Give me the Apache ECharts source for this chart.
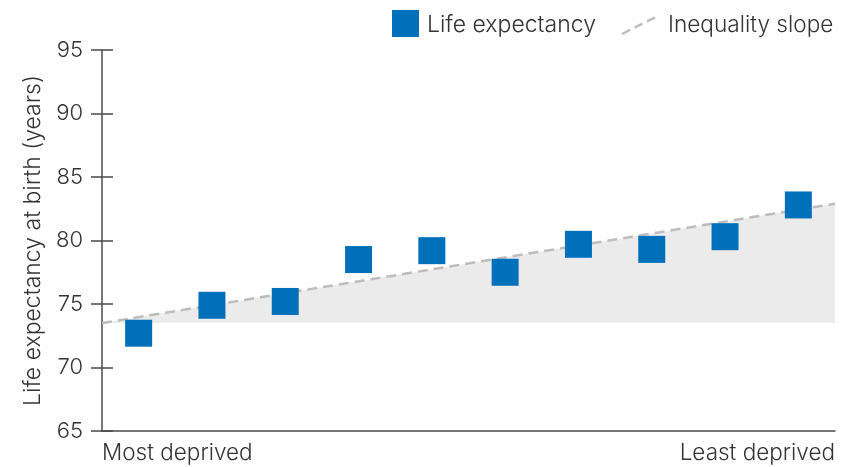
<!DOCTYPE html>
<html>
<head>
<meta charset="utf-8">
<script src="https://cdn.jsdelivr.net/npm/echarts@6/dist/echarts.min.js"></script>
<style>
html,body{margin:0;padding:0;background:#fff;}
#c{width:859px;height:467px;}
</style>
</head>
<body>
<div id="c"></div>
<script>
const groups = ['1','2','3','4','5','6','7','8','9','10'];
const lifeExpectancy = [72.7, 74.9, 75.2, 78.5, 79.2, 77.5, 79.7, 79.3, 80.3, 82.8];
const slopeStart = 73.5;
const slopeEnd = 82.9;
const yTicks = [65, 70, 75, 80, 85, 90, 95];
const endLabels = ['Most deprived', 'Least deprived'];
const yTitle = 'Life expectancy at birth (years)';
const legendNames = ['Life expectancy', 'Inequality slope'];

const FONT = 'Inter';
const TXT = '#333';
const AX = '#4a4a4a';

const chart = echarts.init(document.getElementById('c'), null, {renderer: 'canvas'});
chart.setOption({
  animation: false,
  grid: {left: 102, right: 24, top: 50, bottom: 36, containLabel: false},
  xAxis: [
    {type: 'category', data: groups, boundaryGap: true, show: false},
    {type: 'value', min: 0, max: 1, interval: 1, position: 'bottom',
     axisLine: {show: true, lineStyle: {color: AX, width: 1.5}},
     axisTick: {show: false}, splitLine: {show: false},
     axisLabel: {show: true, margin: 11, fontFamily: FONT, fontWeight: 300, fontSize: 22.5, color: TXT,
       alignMinLabel: 'left', alignMaxLabel: 'right',
       formatter: v => v === 0 ? endLabels[0] : (v === 1 ? endLabels[1] : '')}}
  ],
  yAxis: [
    {type: 'value', min: yTicks[0], max: yTicks[yTicks.length-1], interval: 5,
     name: yTitle, nameLocation: 'middle', nameGap: 57, nameRotate: 90,
     nameTextStyle: {fontFamily: FONT, fontWeight: 300, fontSize: 23, color: TXT},
     axisLine: {show: true, lineStyle: {color: AX, width: 1.5}},
     axisTick: {show: true, length: 11, lineStyle: {color: AX, width: 1.5}},
     axisLabel: {margin: 19, fontFamily: FONT, fontWeight: 300, fontSize: 22, color: TXT},
     splitLine: {show: false}},
    {type: 'value', min: yTicks[0], max: yTicks[yTicks.length-1], interval: 5, position: 'left',
     axisLine: {show: false}, axisLabel: {show: false}, splitLine: {show: false},
     axisTick: {show: true, inside: true, length: 11, lineStyle: {color: AX, width: 1.5}}}
  ],
  series: [
    {name: legendNames[1], type: 'line', xAxisIndex: 1, yAxisIndex: 0,
     data: [[0, slopeStart], [1, slopeEnd]], symbol: 'none', z: 1,
     lineStyle: {color: '#bdbdbf', width: 2.5, type: [10, 6]},
     areaStyle: {color: '#ebebeb', opacity: 1, origin: slopeStart}},
    {name: legendNames[0], type: 'scatter', xAxisIndex: 0, yAxisIndex: 0,
     data: lifeExpectancy, symbol: 'rect', symbolSize: 27, z: 3,
     itemStyle: {color: '#0070bb', opacity: 1}}
  ],
  graphic: [
    {type: 'rect', left: 392, top: 10, shape: {width: 27, height: 27}, style: {fill: '#0070bb'}},
    {type: 'text', style: {x: 427, y: 25, verticalAlign: 'middle', text: legendNames[0], font: '300 23px Inter', fill: TXT}},
    {type: 'polyline', shape: {points: [[622, 34], [658, 16]]}, style: {stroke: '#bdbdbf', lineWidth: 2.5, lineDash: [9, 5], fill: null}},
    {type: 'text', style: {x: 668, y: 25, verticalAlign: 'middle', text: legendNames[1], font: '300 22.6px Inter', fill: TXT}}
  ]
});
</script>
</body>
</html>
